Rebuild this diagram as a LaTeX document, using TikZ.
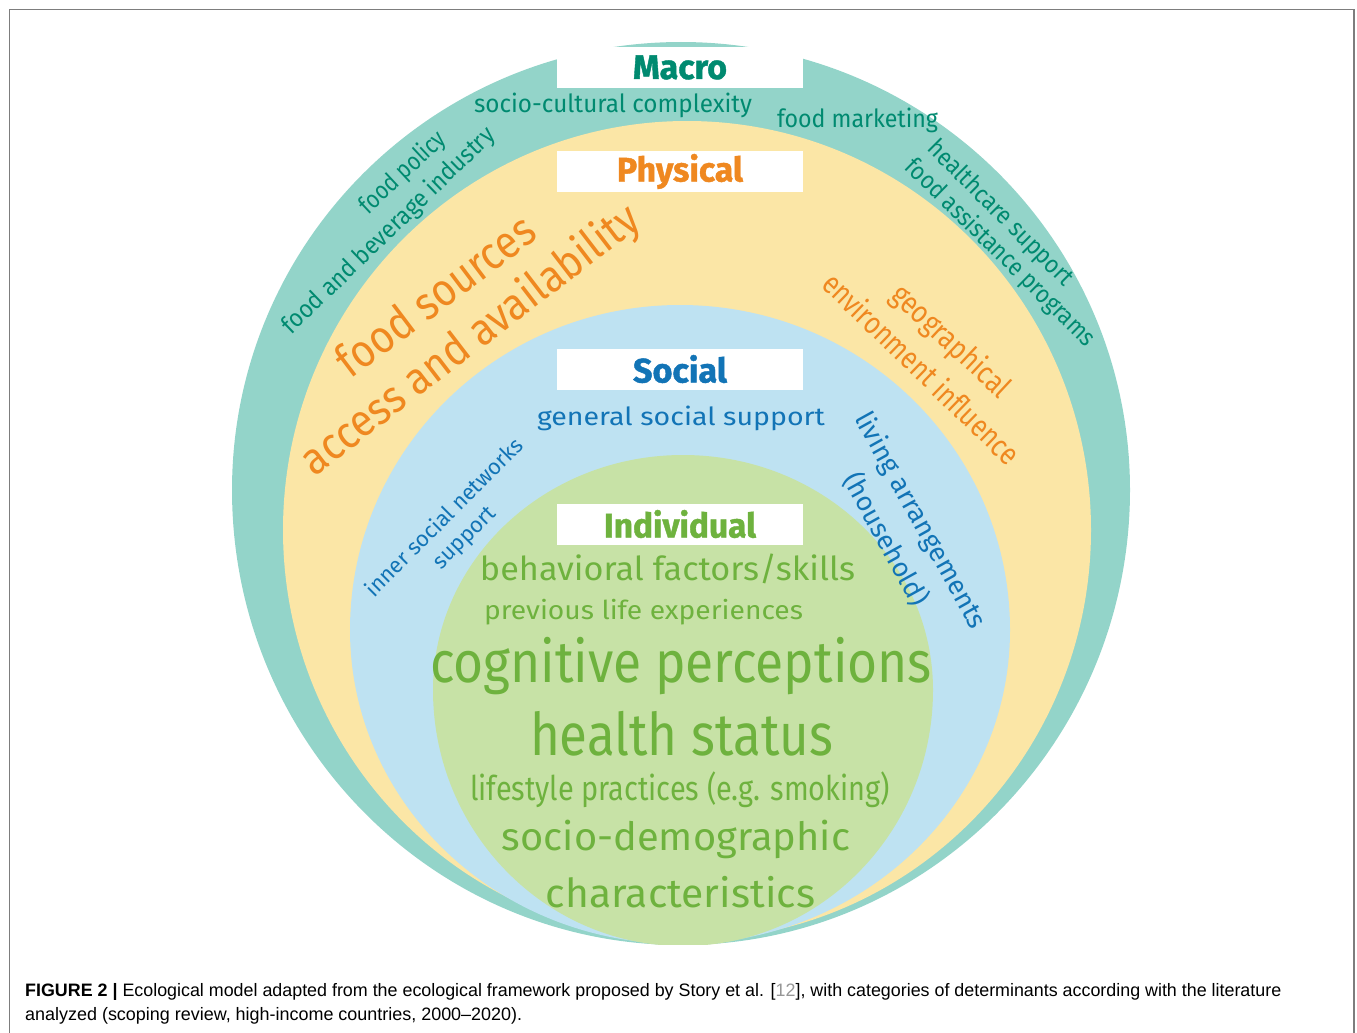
\documentclass[tikz,border=0pt]{standalone}
\usepackage{fontspec}
\setmainfont{Fira Sans}
\newfontfamily\capfont{Liberation Sans}
\usepackage{graphicx}
\newcommand\fitw[2]{\resizebox{#1}{\height}{#2}}
\definecolor{macroF}{RGB}{147,212,201}
\definecolor{physF}{RGB}{251,230,166}
\definecolor{socF}{RGB}{190,226,242}
\definecolor{indF}{RGB}{199,226,166}
\definecolor{macroT}{RGB}{0,138,112}
\definecolor{physT}{RGB}{239,136,32}
\definecolor{socT}{RGB}{18,116,182}
\definecolor{indT}{RGB}{110,178,62}
\definecolor{frameC}{RGB}{125,125,125}
\definecolor{refC}{RGB}{150,150,150}
\tikzset{
  hdr/.style={fill=white, minimum width=246pt, minimum height=41pt, inner sep=0pt,
    font=\bfseries\fontsize{34}{34}\selectfont\addfontfeature{FakeBold=1.2}},
  lbl/.style={inner sep=0pt, anchor=base},
  rlbl/.style={inner sep=0pt, align=center},
}
\begin{document}
\begin{tikzpicture}[x=1pt,y=1pt]
\useasboundingbox (0,0) rectangle (1357,-1033);
% frame
\draw[frameC, line width=1.5pt] (9.5,-1040) -- (9.5,-9.5) -- (1354,-9.5) -- (1354,-1040);
% nested egg shapes
\begin{scope}
\clip (0,0) rectangle (1357,-944);
\fill[macroF] (232,-490) arc[start angle=180,end angle=0,x radius=449,y radius=448]
  arc[start angle=0,end angle=-180,x radius=449,y radius=455] -- cycle;
\fill[physF] (283,-530) arc[start angle=180,end angle=0,x radius=404,y radius=409]
  arc[start angle=0,end angle=-180,x radius=404,y radius=410] -- cycle;
\fill[socF] (350,-630) arc[start angle=180,end angle=0,x radius=330,y radius=325]
  arc[start angle=0,end angle=-180,x radius=330,y radius=314] -- cycle;
\fill[indF] (433,-690) arc[start angle=180,end angle=0,x radius=250,y radius=235]
  arc[start angle=0,end angle=-180,x radius=250,y radius=256] -- cycle;
\end{scope}
% headers
\node[hdr, text=macroT] (macroH) at (680,-67.5) {\fitw{94pt}{Macro}};
\node[hdr, text=physT] (physH) at (680,-171.5) {\fitw{126pt}{Physical}};
\node[hdr, text=socT] (socH) at (680,-369) {\fitw{94pt}{Social}};
\node[hdr, text=indT] (indH) at (680,-524) {\fitw{152pt}{Individual}};
% macro
\begin{scope}[text=macroT]
\node[lbl, font=\fontsize{25}{30}\selectfont] (socult) at (613,-112) {\fitw{278pt}{socio-cultural complexity}};
\node[lbl, font=\fontsize{25}{30}\selectfont] (fmark) at (857.5,-127) {\fitw{161pt}{food marketing}};
\node[rlbl, rotate=43, font=\fontsize{25}{30}\selectfont] (fpol) at (403,-173) {\fitw{108pt}{food policy}};
\node[rlbl, rotate=44, font=\fontsize{25}{30}\selectfont] (fbev) at (389,-231) {\fitw{285pt}{food and beverage industry}};
\node[rlbl, rotate=-45, font=\fontsize{25}{30}\selectfont] (hcare) at (1000,-214) {\fitw{195pt}{healthcare support}};
\node[rlbl, rotate=-44.5, font=\fontsize{25}{30}\selectfont] (fassist) at (1000,-253) {\fitw{256pt}{food assistance programs}};
\end{scope}
% physical
\begin{scope}[text=physT]
\node[rlbl, rotate=37, font=\fontsize{46}{50}\selectfont] (fsrc) at (435,-295) {\fitw{236pt}{food sources}};
\node[rlbl, rotate=37.5, font=\fontsize{45}{50}\selectfont] (access) at (471,-341) {\fitw{414pt}{access and availability}};
\node[rlbl, rotate=-43, font=\fontsize{31}{38}\selectfont] (geo) at (950,-342) {\fitw{150pt}{geographical}};
\node[rlbl, rotate=-44, font=\fontsize{31}{38}\selectfont] (envi) at (922,-368) {\fitw{260pt}{environment influence}};
\end{scope}
% social
\begin{scope}[text=socT]
\node[lbl, font=\fontsize{25}{30}\selectfont] (gss) at (681,-425) {\fitw{288pt}{general social support}};
\node[rlbl, rotate=45, font=\fontsize{22}{28}\selectfont] (inner) at (455,-528) {inner social networks\\support};
\node[rlbl, rotate=-61, font=\fontsize{27}{40}\selectfont] (living) at (903,-530) {living arrangements\\(household)};
\end{scope}
% individual
\begin{scope}[text=indT]
\node[lbl, font=\fontsize{33}{36}\selectfont] (behav) at (667.5,-580) {\fitw{375pt}{behavioral factors/skills}};
\node[lbl, font=\fontsize{26}{30}\selectfont] (prev) at (643.5,-619) {\fitw{319pt}{previous life experiences}};
\node[lbl, font=\fontsize{58}{60}\selectfont] (cogn) at (681,-682) {\fitw{502pt}{cognitive perceptions}};
\node[lbl, font=\fontsize{59}{60}\selectfont] (health) at (681.5,-755) {\fitw{303pt}{health status}};
\node[lbl, font=\fontsize{34}{36}\selectfont] (life) at (680,-800) {\fitw{420pt}{lifestyle practices (e.g. smoking)}};
\node[lbl, font=\fontsize{39}{42}\selectfont] (sociodem) at (676,-850) {\fitw{348pt}{socio-demographic}};
\node[lbl, font=\fontsize{40}{42}\selectfont] (charac) at (680.5,-907) {\fitw{269pt}{characteristics}};
\end{scope}
% caption
\node[inner sep=0pt, anchor=base west, font=\capfont\fontsize{18}{22}\selectfont] (cap1) at (25,-996)
  {\fitw{1256pt}{\textbf{FIGURE 2 |} Ecological model adapted from the ecological framework proposed by Story et al. [\textcolor{refC}{12}], with categories of determinants according with the literature}};
\node[inner sep=0pt, anchor=base west, font=\capfont\fontsize{18}{22}\selectfont] (cap2) at (25,-1020)
  {\fitw{497pt}{analyzed (scoping review, high-income countries, 2000–2020).}};
\end{tikzpicture}
\end{document}
